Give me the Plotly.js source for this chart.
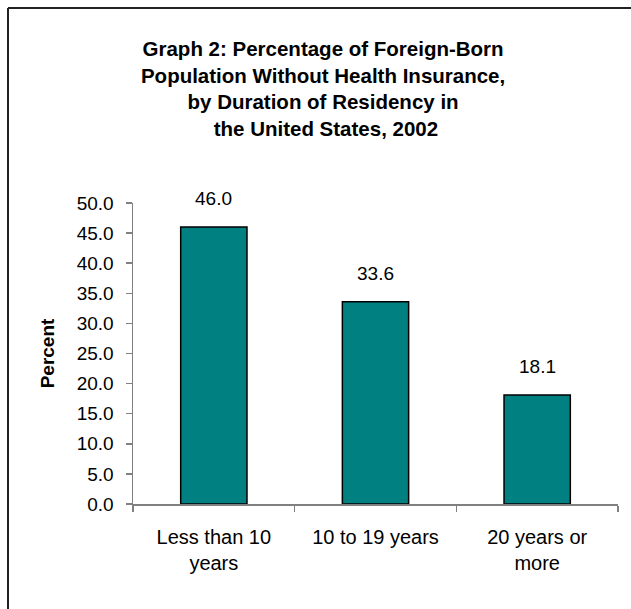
<!DOCTYPE html>
<html>
<head>
<meta charset="utf-8">
<script src="https://cdn.plot.ly/plotly-3.0.1.min.js"></script>
<style>
  html, body { margin: 0; padding: 0; background: #ffffff; }
  #chart { width: 631px; height: 609px; }
</style>
</head>
<body>
<div id="chart"></div>
<script>
// Uninsured share of the foreign-born population by length of US residency, 2002
const categories = ["Less than 10 years", "10 to 19 years", "20 years or more"];
const tickLabels = ["Less than 10<br>years", "10 to 19 years", "20 years or<br>more"];
const percentUninsured = [46.0, 33.6, 18.1];
const yTickValues = [0, 5, 10, 15, 20, 25, 30, 35, 40, 45, 50];

const W = 631, H = 609;
const margin = { l: 133, r: 13, t: 203, b: 105, pad: 0 };
const plotW = W - margin.l - margin.r;
const plotH = H - margin.t - margin.b;

// convert page pixels to paper coordinates for the outer frame lines
const px = x => (x - margin.l) / plotW;
const py = y => 1 - (y - margin.t) / plotH;

const FONT = "Liberation Sans, Arial, sans-serif";

const bars = {
  type: "bar",
  x: categories,
  y: percentUninsured,
  width: 0.41,
  marker: { color: "#008080", line: { color: "#000000", width: 1.5 } },
  hoverinfo: "x+y"
};

// value labels sit above each bar
const valueLabels = categories.map((c, i) => ({
  x: c,
  y: percentUninsured[i],
  xref: "x",
  yref: "y",
  text: percentUninsured[i].toFixed(1),
  showarrow: false,
  yanchor: "bottom",
  yshift: 16,
  font: { family: FONT, size: 19, color: "#000000" }
}));

const layout = {
  width: W,
  height: H,
  margin: margin,
  paper_bgcolor: "#ffffff",
  plot_bgcolor: "#ffffff",
  showlegend: false,
  font: { family: FONT, color: "#000000" },
  title: {
    text: "Graph 2: Percentage of Foreign-Born<br>Population Without Health Insurance,<br>by Duration of Residency in<br> the United States, 2002",
    font: { family: FONT, size: 20.5, color: "#000000", weight: "bold" },
    xref: "container",
    yref: "container",
    x: 0.512,
    xanchor: "center",
    y: 0.908,
    yanchor: "top"
  },
  xaxis: {
    type: "category",
    categoryorder: "array",
    categoryarray: categories,
    tickvals: categories,
    ticktext: tickLabels,
    showline: true,
    linecolor: "#808080",
    linewidth: 1.5,
    ticks: "outside",
    tickson: "boundaries",
    ticklen: 6,
    tickcolor: "#808080",
    tickwidth: 1.5,
    ticklabelstandoff: 14,
    tickfont: { family: FONT, size: 20, color: "#000000" },
    showgrid: false,
    zeroline: false,
    fixedrange: true
  },
  yaxis: {
    range: [0, 50],
    tickvals: yTickValues,
    tickformat: ".1f",
    showline: true,
    linecolor: "#808080",
    linewidth: 1.5,
    ticks: "outside",
    ticklen: 6,
    tickcolor: "#808080",
    tickwidth: 1.5,
    ticklabelstandoff: 8,
    tickfont: { family: FONT, size: 19, color: "#000000" },
    showgrid: false,
    zeroline: false,
    fixedrange: true,
    title: {
      text: "Percent",
      font: { family: FONT, size: 19, color: "#000000", weight: "bold" },
      standoff: 17
    }
  },
  annotations: valueLabels,
  shapes: [
    // outer chart frame: left and top edges
    { type: "line", xref: "paper", yref: "paper",
      x0: px(8), x1: px(8), y0: py(8), y1: py(H + 5),
      line: { color: "#222222", width: 2 } },
    { type: "line", xref: "paper", yref: "paper",
      x0: px(8), x1: px(W + 5), y0: py(8), y1: py(8),
      line: { color: "#222222", width: 2 } }
  ]
};

Plotly.newPlot("chart", [bars], layout, { staticPlot: true, displayModeBar: false });
</script>
</body>
</html>
